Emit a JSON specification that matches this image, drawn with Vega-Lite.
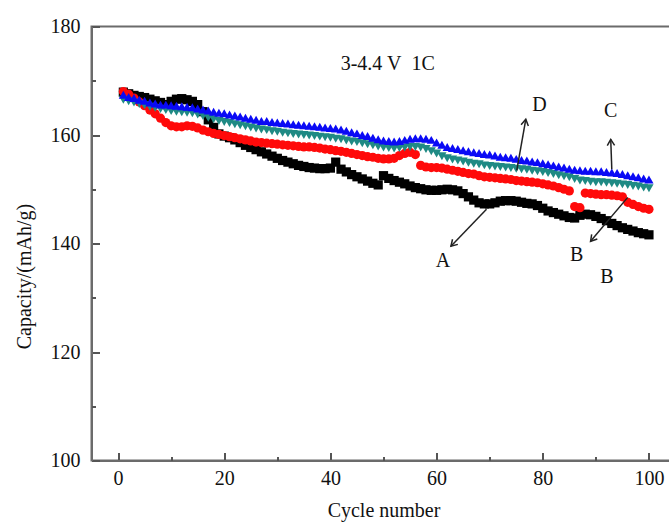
{
  "$schema": "https://vega.github.io/schema/vega-lite/v6.json",
  "width": 584,
  "height": 434,
  "autosize": {"type": "none"},
  "padding": {"left": 91.5, "top": 26.5, "right": 0, "bottom": 63},
  "config": {
    "view": {"stroke": "#6b6b6b", "strokeWidth": 2},
    "font": "Liberation Serif, Times New Roman, serif",
    "axis": {"grid": false}
  },
  "datasets": {
    "cap": [
      {"sample":"A","cycle":1,"capacity":167.9},{"sample":"A","cycle":2,"capacity":167.6},{"sample":"A","cycle":3,"capacity":167.3},{"sample":"A","cycle":4,"capacity":167.1},{"sample":"A","cycle":5,"capacity":166.9},{"sample":"A","cycle":6,"capacity":166.6},{"sample":"A","cycle":7,"capacity":166.3},{"sample":"A","cycle":8,"capacity":166.0},{"sample":"A","cycle":9,"capacity":165.6},{"sample":"A","cycle":10,"capacity":166.2},
      {"sample":"A","cycle":11,"capacity":166.6},{"sample":"A","cycle":12,"capacity":166.7},{"sample":"A","cycle":13,"capacity":166.5},{"sample":"A","cycle":14,"capacity":166.2},{"sample":"A","cycle":15,"capacity":165.6},{"sample":"A","cycle":16,"capacity":164.3},{"sample":"A","cycle":17,"capacity":162.8},{"sample":"A","cycle":18,"capacity":161.4},{"sample":"A","cycle":19,"capacity":160.2},{"sample":"A","cycle":20,"capacity":159.8},
      {"sample":"A","cycle":21,"capacity":159.5},{"sample":"A","cycle":22,"capacity":159.1},{"sample":"A","cycle":23,"capacity":158.6},{"sample":"A","cycle":24,"capacity":158.1},{"sample":"A","cycle":25,"capacity":157.7},{"sample":"A","cycle":26,"capacity":157.3},{"sample":"A","cycle":27,"capacity":156.9},{"sample":"A","cycle":28,"capacity":156.5},{"sample":"A","cycle":29,"capacity":156.1},{"sample":"A","cycle":30,"capacity":155.7},
      {"sample":"A","cycle":31,"capacity":155.3},{"sample":"A","cycle":32,"capacity":155.0},{"sample":"A","cycle":33,"capacity":154.7},{"sample":"A","cycle":34,"capacity":154.4},{"sample":"A","cycle":35,"capacity":154.2},{"sample":"A","cycle":36,"capacity":154.0},{"sample":"A","cycle":37,"capacity":153.9},{"sample":"A","cycle":38,"capacity":153.8},{"sample":"A","cycle":39,"capacity":153.8},{"sample":"A","cycle":40,"capacity":153.9},
      {"sample":"A","cycle":41,"capacity":155.0},{"sample":"A","cycle":42,"capacity":153.7},{"sample":"A","cycle":43,"capacity":153.2},{"sample":"A","cycle":44,"capacity":152.7},{"sample":"A","cycle":45,"capacity":152.3},{"sample":"A","cycle":46,"capacity":151.9},{"sample":"A","cycle":47,"capacity":151.5},{"sample":"A","cycle":48,"capacity":151.1},{"sample":"A","cycle":49,"capacity":150.8},{"sample":"A","cycle":50,"capacity":152.5},
      {"sample":"A","cycle":51,"capacity":152.0},{"sample":"A","cycle":52,"capacity":151.6},{"sample":"A","cycle":53,"capacity":151.3},{"sample":"A","cycle":54,"capacity":151.0},{"sample":"A","cycle":55,"capacity":150.6},{"sample":"A","cycle":56,"capacity":150.3},{"sample":"A","cycle":57,"capacity":150.1},{"sample":"A","cycle":58,"capacity":149.9},{"sample":"A","cycle":59,"capacity":149.8},{"sample":"A","cycle":60,"capacity":149.8},
      {"sample":"A","cycle":61,"capacity":149.9},{"sample":"A","cycle":62,"capacity":150.0},{"sample":"A","cycle":63,"capacity":149.9},{"sample":"A","cycle":64,"capacity":149.7},{"sample":"A","cycle":65,"capacity":149.2},{"sample":"A","cycle":66,"capacity":148.6},{"sample":"A","cycle":67,"capacity":148.0},{"sample":"A","cycle":68,"capacity":147.5},{"sample":"A","cycle":69,"capacity":147.3},{"sample":"A","cycle":70,"capacity":147.3},
      {"sample":"A","cycle":71,"capacity":147.5},{"sample":"A","cycle":72,"capacity":147.8},{"sample":"A","cycle":73,"capacity":147.9},{"sample":"A","cycle":74,"capacity":147.9},{"sample":"A","cycle":75,"capacity":147.8},{"sample":"A","cycle":76,"capacity":147.6},{"sample":"A","cycle":77,"capacity":147.4},{"sample":"A","cycle":78,"capacity":147.3},{"sample":"A","cycle":79,"capacity":147.0},{"sample":"A","cycle":80,"capacity":146.5},
      {"sample":"A","cycle":81,"capacity":146.0},{"sample":"A","cycle":82,"capacity":145.7},{"sample":"A","cycle":83,"capacity":145.4},{"sample":"A","cycle":84,"capacity":145.1},{"sample":"A","cycle":85,"capacity":144.8},{"sample":"A","cycle":86,"capacity":144.7},{"sample":"A","cycle":87,"capacity":145.2},{"sample":"A","cycle":88,"capacity":145.4},{"sample":"A","cycle":89,"capacity":145.3},{"sample":"A","cycle":90,"capacity":145.0},
      {"sample":"A","cycle":91,"capacity":144.6},{"sample":"A","cycle":92,"capacity":144.2},{"sample":"A","cycle":93,"capacity":143.7},{"sample":"A","cycle":94,"capacity":143.3},{"sample":"A","cycle":95,"capacity":142.9},{"sample":"A","cycle":96,"capacity":142.6},{"sample":"A","cycle":97,"capacity":142.3},{"sample":"A","cycle":98,"capacity":142.0},{"sample":"A","cycle":99,"capacity":141.8},{"sample":"A","cycle":100,"capacity":141.6},

      {"sample":"B","cycle":1,"capacity":168.0},{"sample":"B","cycle":2,"capacity":167.5},{"sample":"B","cycle":3,"capacity":166.8},{"sample":"B","cycle":4,"capacity":166.1},{"sample":"B","cycle":5,"capacity":165.4},{"sample":"B","cycle":6,"capacity":164.6},{"sample":"B","cycle":7,"capacity":163.9},{"sample":"B","cycle":8,"capacity":163.1},{"sample":"B","cycle":9,"capacity":162.3},{"sample":"B","cycle":10,"capacity":161.7},
      {"sample":"B","cycle":11,"capacity":161.5},{"sample":"B","cycle":12,"capacity":161.5},{"sample":"B","cycle":13,"capacity":161.7},{"sample":"B","cycle":14,"capacity":161.6},{"sample":"B","cycle":15,"capacity":161.3},{"sample":"B","cycle":16,"capacity":160.9},{"sample":"B","cycle":17,"capacity":160.6},{"sample":"B","cycle":18,"capacity":160.3},{"sample":"B","cycle":19,"capacity":160.1},{"sample":"B","cycle":20,"capacity":159.9},
      {"sample":"B","cycle":21,"capacity":159.7},{"sample":"B","cycle":22,"capacity":159.5},{"sample":"B","cycle":23,"capacity":159.3},{"sample":"B","cycle":24,"capacity":159.1},{"sample":"B","cycle":25,"capacity":158.9},{"sample":"B","cycle":26,"capacity":158.7},{"sample":"B","cycle":27,"capacity":158.6},{"sample":"B","cycle":28,"capacity":158.5},{"sample":"B","cycle":29,"capacity":158.4},{"sample":"B","cycle":30,"capacity":158.3},
      {"sample":"B","cycle":31,"capacity":158.2},{"sample":"B","cycle":32,"capacity":158.1},{"sample":"B","cycle":33,"capacity":158.0},{"sample":"B","cycle":34,"capacity":157.9},{"sample":"B","cycle":35,"capacity":157.8},{"sample":"B","cycle":36,"capacity":157.8},{"sample":"B","cycle":37,"capacity":157.7},{"sample":"B","cycle":38,"capacity":157.6},{"sample":"B","cycle":39,"capacity":157.4},{"sample":"B","cycle":40,"capacity":157.3},
      {"sample":"B","cycle":41,"capacity":157.1},{"sample":"B","cycle":42,"capacity":157.0},{"sample":"B","cycle":43,"capacity":156.8},{"sample":"B","cycle":44,"capacity":156.6},{"sample":"B","cycle":45,"capacity":156.4},{"sample":"B","cycle":46,"capacity":156.2},{"sample":"B","cycle":47,"capacity":156.0},{"sample":"B","cycle":48,"capacity":155.9},{"sample":"B","cycle":49,"capacity":155.7},{"sample":"B","cycle":50,"capacity":155.6},
      {"sample":"B","cycle":51,"capacity":155.6},{"sample":"B","cycle":52,"capacity":155.7},{"sample":"B","cycle":53,"capacity":156.2},{"sample":"B","cycle":54,"capacity":156.6},{"sample":"B","cycle":55,"capacity":156.8},{"sample":"B","cycle":56,"capacity":156.4},{"sample":"B","cycle":57,"capacity":154.4},{"sample":"B","cycle":58,"capacity":154.1},{"sample":"B","cycle":59,"capacity":154.0},{"sample":"B","cycle":60,"capacity":154.0},
      {"sample":"B","cycle":61,"capacity":153.9},{"sample":"B","cycle":62,"capacity":153.7},{"sample":"B","cycle":63,"capacity":153.5},{"sample":"B","cycle":64,"capacity":153.3},{"sample":"B","cycle":65,"capacity":153.1},{"sample":"B","cycle":66,"capacity":152.9},{"sample":"B","cycle":67,"capacity":152.8},{"sample":"B","cycle":68,"capacity":152.5},{"sample":"B","cycle":69,"capacity":152.3},{"sample":"B","cycle":70,"capacity":152.2},
      {"sample":"B","cycle":71,"capacity":152.1},{"sample":"B","cycle":72,"capacity":152.0},{"sample":"B","cycle":73,"capacity":151.9},{"sample":"B","cycle":74,"capacity":151.8},{"sample":"B","cycle":75,"capacity":151.6},{"sample":"B","cycle":76,"capacity":151.5},{"sample":"B","cycle":77,"capacity":151.4},{"sample":"B","cycle":78,"capacity":151.3},{"sample":"B","cycle":79,"capacity":151.2},{"sample":"B","cycle":80,"capacity":151.0},
      {"sample":"B","cycle":81,"capacity":150.8},{"sample":"B","cycle":82,"capacity":150.6},{"sample":"B","cycle":83,"capacity":150.3},{"sample":"B","cycle":84,"capacity":150.0},{"sample":"B","cycle":85,"capacity":149.7},{"sample":"B","cycle":86,"capacity":146.8},{"sample":"B","cycle":87,"capacity":146.6},{"sample":"B","cycle":88,"capacity":149.3},{"sample":"B","cycle":89,"capacity":149.2},{"sample":"B","cycle":90,"capacity":149.1},
      {"sample":"B","cycle":91,"capacity":149.0},{"sample":"B","cycle":92,"capacity":149.0},{"sample":"B","cycle":93,"capacity":148.9},{"sample":"B","cycle":94,"capacity":148.8},{"sample":"B","cycle":95,"capacity":148.6},{"sample":"B","cycle":96,"capacity":147.6},{"sample":"B","cycle":97,"capacity":147.2},{"sample":"B","cycle":98,"capacity":146.8},{"sample":"B","cycle":99,"capacity":146.5},{"sample":"B","cycle":100,"capacity":146.3},

      {"sample":"D","cycle":1,"capacity":166.5},{"sample":"D","cycle":2,"capacity":166.2},{"sample":"D","cycle":3,"capacity":166.0},{"sample":"D","cycle":4,"capacity":165.7},{"sample":"D","cycle":5,"capacity":165.5},{"sample":"D","cycle":6,"capacity":165.2},{"sample":"D","cycle":7,"capacity":165.0},{"sample":"D","cycle":8,"capacity":164.8},{"sample":"D","cycle":9,"capacity":164.6},{"sample":"D","cycle":10,"capacity":164.4},
      {"sample":"D","cycle":11,"capacity":164.3},{"sample":"D","cycle":12,"capacity":164.2},{"sample":"D","cycle":13,"capacity":164.1},{"sample":"D","cycle":14,"capacity":164.0},{"sample":"D","cycle":15,"capacity":163.8},{"sample":"D","cycle":16,"capacity":163.5},{"sample":"D","cycle":17,"capacity":163.2},{"sample":"D","cycle":18,"capacity":162.9},{"sample":"D","cycle":19,"capacity":162.6},{"sample":"D","cycle":20,"capacity":162.4},
      {"sample":"D","cycle":21,"capacity":162.2},{"sample":"D","cycle":22,"capacity":162.0},{"sample":"D","cycle":23,"capacity":161.8},{"sample":"D","cycle":24,"capacity":161.6},{"sample":"D","cycle":25,"capacity":161.4},{"sample":"D","cycle":26,"capacity":161.2},{"sample":"D","cycle":27,"capacity":161.0},{"sample":"D","cycle":28,"capacity":160.9},{"sample":"D","cycle":29,"capacity":160.7},{"sample":"D","cycle":30,"capacity":160.6},
      {"sample":"D","cycle":31,"capacity":160.4},{"sample":"D","cycle":32,"capacity":160.3},{"sample":"D","cycle":33,"capacity":160.2},{"sample":"D","cycle":34,"capacity":160.1},{"sample":"D","cycle":35,"capacity":160.0},{"sample":"D","cycle":36,"capacity":159.9},{"sample":"D","cycle":37,"capacity":159.8},{"sample":"D","cycle":38,"capacity":159.7},{"sample":"D","cycle":39,"capacity":159.6},{"sample":"D","cycle":40,"capacity":159.5},
      {"sample":"D","cycle":41,"capacity":159.3},{"sample":"D","cycle":42,"capacity":159.2},{"sample":"D","cycle":43,"capacity":159.0},{"sample":"D","cycle":44,"capacity":158.8},{"sample":"D","cycle":45,"capacity":158.7},{"sample":"D","cycle":46,"capacity":158.5},{"sample":"D","cycle":47,"capacity":158.3},{"sample":"D","cycle":48,"capacity":158.1},{"sample":"D","cycle":49,"capacity":157.9},{"sample":"D","cycle":50,"capacity":157.7},
      {"sample":"D","cycle":51,"capacity":157.6},{"sample":"D","cycle":52,"capacity":157.5},{"sample":"D","cycle":53,"capacity":157.6},{"sample":"D","cycle":54,"capacity":157.7},{"sample":"D","cycle":55,"capacity":157.8},{"sample":"D","cycle":56,"capacity":157.8},{"sample":"D","cycle":57,"capacity":157.7},{"sample":"D","cycle":58,"capacity":157.4},{"sample":"D","cycle":59,"capacity":157.0},{"sample":"D","cycle":60,"capacity":156.6},
      {"sample":"D","cycle":61,"capacity":156.1},{"sample":"D","cycle":62,"capacity":155.7},{"sample":"D","cycle":63,"capacity":155.5},{"sample":"D","cycle":64,"capacity":155.3},{"sample":"D","cycle":65,"capacity":155.1},{"sample":"D","cycle":66,"capacity":154.9},{"sample":"D","cycle":67,"capacity":154.7},{"sample":"D","cycle":68,"capacity":154.6},{"sample":"D","cycle":69,"capacity":154.4},{"sample":"D","cycle":70,"capacity":154.3},
      {"sample":"D","cycle":71,"capacity":154.2},{"sample":"D","cycle":72,"capacity":154.1},{"sample":"D","cycle":73,"capacity":154.0},{"sample":"D","cycle":74,"capacity":153.9},{"sample":"D","cycle":75,"capacity":153.8},{"sample":"D","cycle":76,"capacity":153.7},{"sample":"D","cycle":77,"capacity":153.6},{"sample":"D","cycle":78,"capacity":153.4},{"sample":"D","cycle":79,"capacity":153.3},{"sample":"D","cycle":80,"capacity":153.2},
      {"sample":"D","cycle":81,"capacity":153.0},{"sample":"D","cycle":82,"capacity":152.8},{"sample":"D","cycle":83,"capacity":152.6},{"sample":"D","cycle":84,"capacity":152.4},{"sample":"D","cycle":85,"capacity":152.2},{"sample":"D","cycle":86,"capacity":151.9},{"sample":"D","cycle":87,"capacity":151.6},{"sample":"D","cycle":88,"capacity":151.5},{"sample":"D","cycle":89,"capacity":151.4},{"sample":"D","cycle":90,"capacity":151.3},
      {"sample":"D","cycle":91,"capacity":151.3},{"sample":"D","cycle":92,"capacity":151.2},{"sample":"D","cycle":93,"capacity":151.1},{"sample":"D","cycle":94,"capacity":151.0},{"sample":"D","cycle":95,"capacity":150.9},{"sample":"D","cycle":96,"capacity":150.8},{"sample":"D","cycle":97,"capacity":150.6},{"sample":"D","cycle":98,"capacity":150.5},{"sample":"D","cycle":99,"capacity":150.3},{"sample":"D","cycle":100,"capacity":150.2},

      {"sample":"C","cycle":1,"capacity":167.4},{"sample":"C","cycle":2,"capacity":167.0},{"sample":"C","cycle":3,"capacity":166.8},{"sample":"C","cycle":4,"capacity":166.5},{"sample":"C","cycle":5,"capacity":166.3},{"sample":"C","cycle":6,"capacity":166.0},{"sample":"C","cycle":7,"capacity":165.8},{"sample":"C","cycle":8,"capacity":165.6},{"sample":"C","cycle":9,"capacity":165.6},{"sample":"C","cycle":10,"capacity":165.5},
      {"sample":"C","cycle":11,"capacity":165.4},{"sample":"C","cycle":12,"capacity":165.3},{"sample":"C","cycle":13,"capacity":165.2},{"sample":"C","cycle":14,"capacity":165.1},{"sample":"C","cycle":15,"capacity":164.9},{"sample":"C","cycle":16,"capacity":164.7},{"sample":"C","cycle":17,"capacity":164.5},{"sample":"C","cycle":18,"capacity":164.3},{"sample":"C","cycle":19,"capacity":164.1},{"sample":"C","cycle":20,"capacity":164.0},
      {"sample":"C","cycle":21,"capacity":163.8},{"sample":"C","cycle":22,"capacity":163.6},{"sample":"C","cycle":23,"capacity":163.4},{"sample":"C","cycle":24,"capacity":163.2},{"sample":"C","cycle":25,"capacity":163.0},{"sample":"C","cycle":26,"capacity":162.8},{"sample":"C","cycle":27,"capacity":162.6},{"sample":"C","cycle":28,"capacity":162.6},{"sample":"C","cycle":29,"capacity":162.4},{"sample":"C","cycle":30,"capacity":162.3},
      {"sample":"C","cycle":31,"capacity":162.2},{"sample":"C","cycle":32,"capacity":162.1},{"sample":"C","cycle":33,"capacity":162.0},{"sample":"C","cycle":34,"capacity":161.9},{"sample":"C","cycle":35,"capacity":161.8},{"sample":"C","cycle":36,"capacity":161.7},{"sample":"C","cycle":37,"capacity":161.6},{"sample":"C","cycle":38,"capacity":161.5},{"sample":"C","cycle":39,"capacity":161.4},{"sample":"C","cycle":40,"capacity":161.3},
      {"sample":"C","cycle":41,"capacity":161.2},{"sample":"C","cycle":42,"capacity":161.0},{"sample":"C","cycle":43,"capacity":160.8},{"sample":"C","cycle":44,"capacity":160.5},{"sample":"C","cycle":45,"capacity":160.3},{"sample":"C","cycle":46,"capacity":160.0},{"sample":"C","cycle":47,"capacity":159.8},{"sample":"C","cycle":48,"capacity":159.5},{"sample":"C","cycle":49,"capacity":159.2},{"sample":"C","cycle":50,"capacity":159.0},
      {"sample":"C","cycle":51,"capacity":158.9},{"sample":"C","cycle":52,"capacity":158.8},{"sample":"C","cycle":53,"capacity":158.9},{"sample":"C","cycle":54,"capacity":159.1},{"sample":"C","cycle":55,"capacity":159.3},{"sample":"C","cycle":56,"capacity":159.4},{"sample":"C","cycle":57,"capacity":159.4},{"sample":"C","cycle":58,"capacity":159.3},{"sample":"C","cycle":59,"capacity":159.1},{"sample":"C","cycle":60,"capacity":158.6},
      {"sample":"C","cycle":61,"capacity":158.2},{"sample":"C","cycle":62,"capacity":157.8},{"sample":"C","cycle":63,"capacity":157.6},{"sample":"C","cycle":64,"capacity":157.4},{"sample":"C","cycle":65,"capacity":157.2},{"sample":"C","cycle":66,"capacity":157.0},{"sample":"C","cycle":67,"capacity":156.8},{"sample":"C","cycle":68,"capacity":156.7},{"sample":"C","cycle":69,"capacity":156.5},{"sample":"C","cycle":70,"capacity":156.4},
      {"sample":"C","cycle":71,"capacity":156.2},{"sample":"C","cycle":72,"capacity":156.0},{"sample":"C","cycle":73,"capacity":155.9},{"sample":"C","cycle":74,"capacity":155.8},{"sample":"C","cycle":75,"capacity":155.6},{"sample":"C","cycle":76,"capacity":155.4},{"sample":"C","cycle":77,"capacity":155.3},{"sample":"C","cycle":78,"capacity":155.1},{"sample":"C","cycle":79,"capacity":155.0},{"sample":"C","cycle":80,"capacity":154.8},
      {"sample":"C","cycle":81,"capacity":154.6},{"sample":"C","cycle":82,"capacity":154.4},{"sample":"C","cycle":83,"capacity":154.2},{"sample":"C","cycle":84,"capacity":154.0},{"sample":"C","cycle":85,"capacity":153.8},{"sample":"C","cycle":86,"capacity":153.6},{"sample":"C","cycle":87,"capacity":153.5},{"sample":"C","cycle":88,"capacity":153.4},{"sample":"C","cycle":89,"capacity":153.4},{"sample":"C","cycle":90,"capacity":153.3},
      {"sample":"C","cycle":91,"capacity":153.3},{"sample":"C","cycle":92,"capacity":153.2},{"sample":"C","cycle":93,"capacity":153.1},{"sample":"C","cycle":94,"capacity":153.0},{"sample":"C","cycle":95,"capacity":152.8},{"sample":"C","cycle":96,"capacity":152.6},{"sample":"C","cycle":97,"capacity":152.4},{"sample":"C","cycle":98,"capacity":152.2},{"sample":"C","cycle":99,"capacity":152.0},{"sample":"C","cycle":100,"capacity":151.8}
    ],
    "notes": [
      {"label": "3-4.4 V\u00a0 1C", "cycle": 50.8, "capacity": 173.0},
      {"label": "D", "cycle": 79.4, "capacity": 165.5},
      {"label": "C", "cycle": 92.8, "capacity": 164.4},
      {"label": "A", "cycle": 61.2, "capacity": 136.8},
      {"label": "B", "cycle": 86.4, "capacity": 137.8},
      {"label": "B", "cycle": 92.1, "capacity": 133.8}
    ],
    "arrows": [
      {"id": "D", "x0": 75.1, "y0": 153.5, "x1": 76.8, "y1": 162.9},
      {"id": "C", "x0": 93.0, "y0": 153.7, "x1": 92.8, "y1": 159.2},
      {"id": "A", "x0": 69.4, "y0": 146.3, "x1": 62.7, "y1": 139.5},
      {"id": "B", "x0": 96.0, "y0": 148.5, "x1": 89.0, "y1": 140.4}
    ]
  },
  "layer": [
    {
      "data": {"name": "cap"},
      "mark": {"type": "point", "filled": true, "opacity": 1, "size": 85},
      "encoding": {
        "x": {
          "field": "cycle", "type": "quantitative",
          "scale": {"domain": [-5, 105], "nice": false, "zero": false},
          "axis": {
            "values": [0, 20, 40, 60, 80, 100],
            "tickSize": -8, "tickWidth": 2, "tickColor": "#555555",
            "domainColor": "#6b6b6b", "domainWidth": 2,
            "labelFont": "Liberation Serif, Times New Roman, serif", "labelFontSize": 20, "labelColor": "#111111",
            "labelPadding": 16, "labelFlush": false, "labelOverlap": false,
            "title": "Cycle number", "titleFont": "Liberation Serif, Times New Roman, serif", "titleFontSize": 20,
            "titleFontWeight": "normal", "titleColor": "#111111",
            "titleY": 56, "titleBaseline": "alphabetic"
          }
        },
        "y": {
          "field": "capacity", "type": "quantitative",
          "scale": {"domain": [100, 180], "nice": false, "zero": false},
          "axis": {
            "values": [100, 120, 140, 160, 180],
            "tickSize": -8, "tickWidth": 2, "tickColor": "#555555",
            "domainColor": "#6b6b6b", "domainWidth": 2,
            "labelFont": "Liberation Serif, Times New Roman, serif", "labelFontSize": 20, "labelColor": "#111111",
            "labelPadding": 19.5, "labelFlush": false, "labelOverlap": false,
            "title": "Capacity/(mAh/g)", "titleFont": "Liberation Serif, Times New Roman, serif", "titleFontSize": 20,
            "titleFontWeight": "normal", "titleColor": "#111111",
            "titleX": -61.5, "titleY": 249.5, "titleBaseline": "alphabetic", "titleAlign": "center"
          }
        },
        "color": {
          "field": "sample", "type": "nominal",
          "scale": {"domain": ["A", "B", "D", "C"], "range": ["#000000", "#ff0a0a", "#1f8a84", "#0a0af5"]},
          "legend": null
        },
        "shape": {
          "field": "sample", "type": "nominal",
          "scale": {"domain": ["A", "B", "D", "C"], "range": ["square", "circle", "triangle-down", "triangle-up"]},
          "legend": null
        }
      }
    },
    {
      "data": {"name": "arrows"},
      "mark": {"type": "rule", "color": "#222222", "strokeWidth": 1.5},
      "encoding": {
        "x": {"field": "x0", "type": "quantitative", "axis": null},
        "y": {"field": "y0", "type": "quantitative", "axis": null},
        "x2": {"field": "x1"},
        "y2": {"field": "y1"}
      }
    },
    {
      "data": {"name": "arrows"},
      "transform": [{"filter": "datum.id === 'D'"}],
      "mark": {"type": "point", "shape": "M-0.6,1L0,0L0.6,1", "filled": false, "color": "#222222", "strokeWidth": 1.5, "size": 150, "angle": 10, "opacity": 1},
      "encoding": {
        "x": {"field": "x1", "type": "quantitative", "axis": null},
        "y": {"field": "y1", "type": "quantitative", "axis": null}
      }
    },
    {
      "data": {"name": "arrows"},
      "transform": [{"filter": "datum.id === 'C'"}],
      "mark": {"type": "point", "shape": "M-0.6,1L0,0L0.6,1", "filled": false, "color": "#222222", "strokeWidth": 1.5, "size": 150, "angle": -2, "opacity": 1},
      "encoding": {
        "x": {"field": "x1", "type": "quantitative", "axis": null},
        "y": {"field": "y1", "type": "quantitative", "axis": null}
      }
    },
    {
      "data": {"name": "arrows"},
      "transform": [{"filter": "datum.id === 'A'"}],
      "mark": {"type": "point", "shape": "M-0.6,1L0,0L0.6,1", "filled": false, "color": "#222222", "strokeWidth": 1.5, "size": 150, "angle": 224, "opacity": 1},
      "encoding": {
        "x": {"field": "x1", "type": "quantitative", "axis": null},
        "y": {"field": "y1", "type": "quantitative", "axis": null}
      }
    },
    {
      "data": {"name": "arrows"},
      "transform": [{"filter": "datum.id === 'B'"}],
      "mark": {"type": "point", "shape": "M-0.6,1L0,0L0.6,1", "filled": false, "color": "#222222", "strokeWidth": 1.5, "size": 150, "angle": 220, "opacity": 1},
      "encoding": {
        "x": {"field": "x1", "type": "quantitative", "axis": null},
        "y": {"field": "y1", "type": "quantitative", "axis": null}
      }
    },
    {
      "data": {"name": "notes"},
      "mark": {"type": "text", "font": "Liberation Serif, Times New Roman, serif", "fontSize": 20, "color": "#111111", "align": "center", "baseline": "middle"},
      "encoding": {
        "x": {
          "field": "cycle", "type": "quantitative",
          "axis": {"orient": "bottom", "values": [10, 30, 50, 70, 90], "tickSize": -4, "tickWidth": 2, "tickColor": "#555555", "labels": false, "domain": false, "title": null, "grid": false}
        },
        "y": {
          "field": "capacity", "type": "quantitative",
          "axis": {"orient": "left", "values": [110, 130, 150, 170], "tickSize": -4, "tickWidth": 2, "tickColor": "#555555", "labels": false, "domain": false, "title": null, "grid": false}
        },
        "text": {"field": "label"}
      }
    }
  ],
  "resolve": {"axis": {"x": "independent", "y": "independent"}}
}
